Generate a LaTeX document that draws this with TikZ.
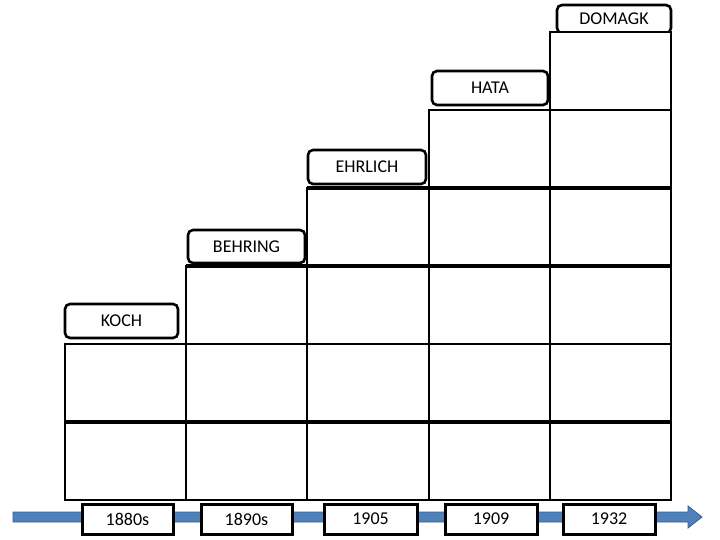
\documentclass[tikz,border=0pt]{standalone}
\usepackage{fontspec}
\setmainfont{Carlito}
\begin{document}
\begin{tikzpicture}[x=1pt,y=-1pt,
  cell/.style={draw=black,line width=2.8pt},
  thickline/.style={draw=black,line width=4.2pt},
  lbl/.style={font=\fontsize{18}{21}\selectfont},
  namebox/.style={lbl,draw=black,line width=2.6pt,rounded corners=5pt,fill=white,inner sep=0pt},
  yearbox/.style={lbl,draw=black,line width=3pt,fill=white,inner sep=0pt,minimum height=30pt},
  timeline/.style={fill=arrowblue,draw=arrowedge,line width=0.8pt}]
\definecolor{arrowblue}{HTML}{4F81BD}
\definecolor{arrowedge}{HTML}{385D8A}
\useasboundingbox (0,0) rectangle (720,540);
% timeline arrow
\draw[timeline] (13,512) -- (688,512) -- (688,506) -- (702,517) -- (688,528) -- (688,522) -- (13,522) -- cycle;
% name labels
\node[namebox,minimum width=114pt,minimum height=28pt] (domagk) at (614,19) {DOMAGK};
\node[namebox,minimum width=113pt,minimum height=34pt] (koch) at (121.5,321) {KOCH};
\node[namebox,minimum width=117pt,minimum height=33pt] (behring) at (246.5,246.5) {BEHRING};
\node[namebox,minimum width=118pt,minimum height=34pt] (ehrlich) at (367,167) {EHRLICH};
\node[namebox,minimum width=116pt,minimum height=34pt] (hata) at (490,88) {HATA};
% staircase cells
\foreach \xa/\xb/\n in {65/186/2,186/307/3,307/429/4,429/550/5,550/671/6}{
  \foreach \r in {1,...,\n}{
    \draw[cell,fill=white] (\xa,{500-78*\r}) rectangle (\xb,{500-78*(\r-1)});
  }
}
% heavier horizontal joins
\draw[thickline] (65,422) -- (671,422);
\draw[thickline] (186,266) -- (671,266);
\draw[thickline] (307,188) -- (671,188);
% year boxes
\node[yearbox,minimum width=91pt] (y1880) at (127.5,519) {1880s};
\node[yearbox,minimum width=91pt] (y1890) at (246.5,519) {1890s};
\node[yearbox,minimum width=93pt] (y1905) at (370.5,519) {1905};
\node[yearbox,minimum width=92pt] (y1909) at (491,519) {1909};
\node[yearbox,minimum width=92pt] (y1932) at (609,519) {1932};
\end{tikzpicture}
\end{document}
